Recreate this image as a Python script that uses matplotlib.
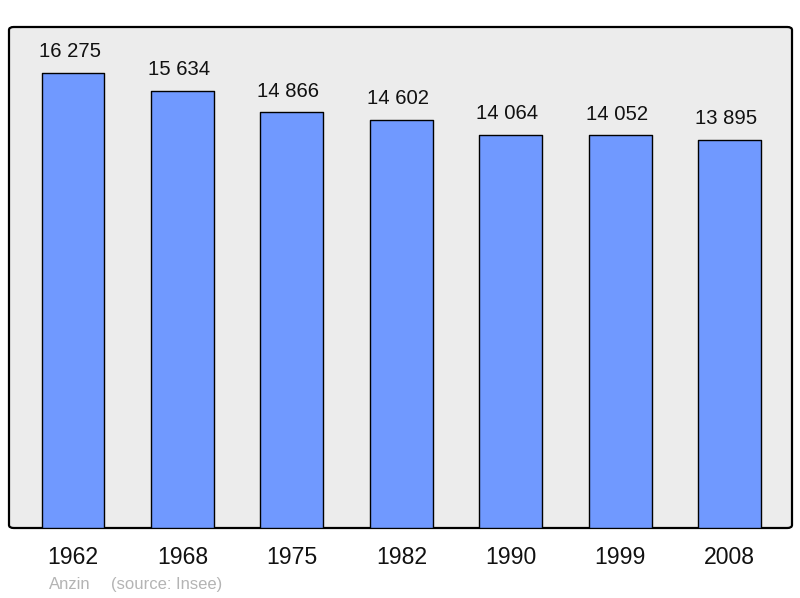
import matplotlib
matplotlib.use("Agg")
import matplotlib.pyplot as plt
from matplotlib.patches import FancyBboxPatch

years = ["1962", "1968", "1975", "1982", "1990", "1999", "2008"]
population = [16275, 15634, 14866, 14602, 14064, 14052, 13895]
value_labels = ["16 275", "15 634", "14 866", "14 602", "14 064", "14 052", "13 895"]
commune = "Anzin"
source = "(source: Insee)"

plt.rcParams['font.family'] = ['Liberation Sans', 'DejaVu Sans']

fig = plt.figure(figsize=(8, 5.98), dpi=100)
ax = fig.add_axes([9/800, 70/598, 783/800, 501/598])
ax.set_xlim(-0.585, 6.57)
ax.set_ylim(0, 17920)
ax.set_facecolor('none')
for s in ax.spines.values():
    s.set_visible(False)
ax.set_xticks([])
ax.set_yticks([])

frame = FancyBboxPatch((0, 0), 1, 1, boxstyle="round,pad=0,rounding_size=0.006",
                       transform=ax.transAxes, facecolor='#ececec', edgecolor='black',
                       linewidth=1.6, zorder=0, clip_on=False)
ax.add_patch(frame)

x = list(range(len(years)))
bars = ax.bar(x, population, width=0.574, color='#7099ff', edgecolor='black',
              linewidth=1.0, zorder=2)
for b in bars:
    b.set_joinstyle('round')

for xi, v, lab in zip(x, population, value_labels):
    ax.annotate(lab, (xi, v), xytext=(-2.5, 11.2), textcoords='offset points',
                ha='center', va='baseline', fontsize=14.6, color='#111111')

for xi, y in zip(x, years):
    ax.annotate(y, (xi, 0), xytext=(0, -26.2), textcoords='offset points',
                ha='center', va='baseline', fontsize=16.6, color='#111111',
                annotation_clip=False)

fig.text(49/800, 1 - 589/598, commune, fontsize=12, color='#b4b4b4', ha='left', va='baseline')
fig.text(111/800, 1 - 589/598, source, fontsize=12, color='#b4b4b4', ha='left', va='baseline')

fig.savefig('out.png', dpi=100)
